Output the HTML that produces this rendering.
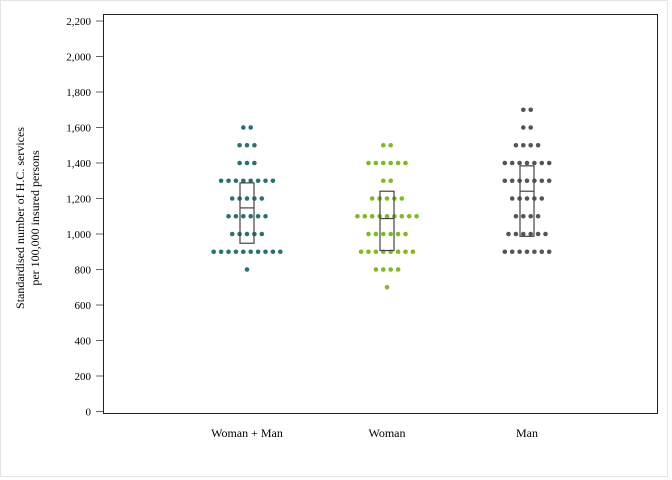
<!DOCTYPE html>
<html><head><meta charset="utf-8"><style>
body{margin:0;background:#fff;}
svg{display:block;font-family:"Liberation Serif",serif;}
</style></head><body>
<svg id="c" width="672" height="480">
<rect x="0.5" y="0.5" width="667" height="476" fill="#fff" stroke="#e4e4e4"/>
<rect x="103.5" y="14.5" width="554" height="399" fill="none" stroke="#222"/>
<text transform="translate(24,218) rotate(-90)" text-anchor="middle" font-size="12"><tspan x="0" dy="0">Standardised number of H.C. services</tspan><tspan x="0" dy="15">per 100,000 insured persons</tspan></text>
<g id="yaxis"></g>
<g id="xaxis"></g>
<g id="marks"></g>
</svg>
<script>
const categories = ["Woman + Man", "Woman", "Man"];
const colors = ["#2a7272", "#7fba1e", "#555555"];
const levels = [700, 800, 900, 1000, 1100, 1200, 1300, 1400, 1500, 1600, 1700];
const countsWM = [0, 1, 10, 5, 6, 5, 8, 3, 3, 2, 0];
const countsW = [1, 4, 8, 6, 9, 5, 2, 6, 2, 0, 0];
const countsM = [0, 0, 7, 6, 4, 5, 7, 7, 4, 2, 2];
const q1 = [948, 907, 987];
const medians = [1147, 1087, 1241];
const q3 = [1288, 1241, 1384];
const yTicks = [0, 200, 400, 600, 800, 1000, 1200, 1400, 1600, 1800, 2000, 2200];

const NS = "http://www.w3.org/2000/svg";
function y(v){ return 411.5 - v * (390.5 / 2200); }
function x(i){ return 247 + i * 140; }
function mk(tag, attrs, parent){ const e = document.createElementNS(NS, tag); for (const k in attrs) e.setAttribute(k, attrs[k]); parent.appendChild(e); return e; }

const ya = document.getElementById("yaxis");
yTicks.forEach(t => {
  const l = mk("line", {x1: 96, x2: 103, y1: y(t), y2: y(t), stroke: "#666"}, ya);
  
  
  const tx = mk("text", {x: 91, y: y(t) + 4, "text-anchor": "end", "font-size": 11}, ya);
  tx.textContent = t.toLocaleString("en-US");
  
  
});
const xa = document.getElementById("xaxis");
categories.forEach((c, i) => {
  const tx = mk("text", {x: x(i), y: 437, "text-anchor": "middle", "font-size": 12}, xa);
  tx.textContent = c;
  
  
});
const marks = document.getElementById("marks");
const allCounts = [countsWM, countsW, countsM];
const sp = 7.4;
allCounts.forEach((counts, i) => {
  counts.forEach((n, j) => {
    for (let k = 0; k < n; k++) {
      const cx = x(i) + (k - (n - 1) / 2) * sp;
      const d = mk("circle", {cx: cx, cy: y(levels[j]), r: 2.3, fill: colors[i]}, marks);
      
      
    }
  });
  const b = mk("rect", {x: x(i) - 7, y: y(q3[i]), width: 14, height: y(q1[i]) - y(q3[i]), fill: "none", stroke: "#444", "stroke-width": 1.2}, marks);
  
  
  const m = mk("line", {x1: x(i) - 7, x2: x(i) + 7, y1: y(medians[i]), y2: y(medians[i]), stroke: "#444", "stroke-width": 1.2}, marks);
  
  
});
</script>
</body></html>
